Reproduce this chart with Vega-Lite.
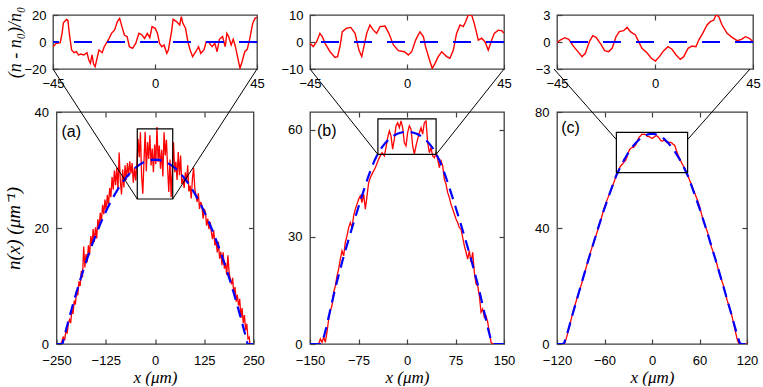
{
"$schema": "https://vega.github.io/schema/vega-lite/v6.json",
"padding": {"left": 3, "top": 5, "right": 0, "bottom": 0},
"background": "white",
"config": {
  "view": {"stroke": "#404040", "strokeWidth": 1.3},
  "axis": {"labelFont": "Liberation Sans", "labelFontSize": 13, "labelColor": "#000", "tickColor": "#404040", "tickWidth": 1.2, "domain": false, "grid": false, "labelOverlap": false, "titleFont": "Liberation Serif", "titleFontStyle": "italic", "titleFontWeight": "normal", "titleFontSize": 17, "titleColor": "#000"}
},
"datasets": {
  "iaR": [{"x":-45,"y":-3.5},{"x":-43.6,"y":-1},{"x":-41.8,"y":-0.5},{"x":-41,"y":6.4},{"x":-40.4,"y":14.3},{"x":-39,"y":16.8},{"x":-38.4,"y":15.8},{"x":-37.8,"y":6.4},{"x":-36.8,"y":-5.9},{"x":-35.7,"y":-7.9},{"x":-34.7,"y":-7.2},{"x":-33.8,"y":-9.6},{"x":-32.7,"y":-8.9},{"x":-31.4,"y":-9.6},{"x":-30,"y":-7.9},{"x":-29.2,"y":-13.3},{"x":-28.5,"y":-15.8},{"x":-27.8,"y":-9.6},{"x":-27.1,"y":-16.3},{"x":-26.4,"y":-18.3},{"x":-25.4,"y":-10.9},{"x":-24.7,"y":-5.9},{"x":-23.3,"y":-7.9},{"x":-22.4,"y":-3.5},{"x":-20.6,"y":1.5},{"x":-19.2,"y":6.4},{"x":-17.8,"y":8.9},{"x":-16.6,"y":15.1},{"x":-15.6,"y":17.5},{"x":-14.6,"y":11.4},{"x":-13.5,"y":5.2},{"x":-12.3,"y":4.0},{"x":-11.3,"y":-3.5},{"x":-9.9,"y":-4.7},{"x":-8.5,"y":-1},{"x":-7.1,"y":6.4},{"x":-5.7,"y":5.2},{"x":-4.6,"y":2.7},{"x":-3.4,"y":6.4},{"x":-2.3,"y":3.2},{"x":-1.3,"y":11.4},{"x":0.1,"y":10.1},{"x":1.1,"y":6.4},{"x":2,"y":-1},{"x":3,"y":-3.5},{"x":4,"y":-2.2},{"x":5.2,"y":-8.4},{"x":5.9,"y":-5.9},{"x":7.3,"y":7.7},{"x":8,"y":16.8},{"x":9.5,"y":15.1},{"x":10.9,"y":12.6},{"x":11.6,"y":18.8},{"x":12.3,"y":13.8},{"x":13.5,"y":10.1},{"x":14.5,"y":0.2},{"x":15.5,"y":-5.9},{"x":16.6,"y":-10.9},{"x":18,"y":-7.2},{"x":19.2,"y":-3.5},{"x":20.2,"y":-8.4},{"x":21.6,"y":-5.9},{"x":22.6,"y":0.2},{"x":23.8,"y":-0.5},{"x":25.2,"y":-3.5},{"x":26.4,"y":-1},{"x":27.4,"y":-7.2},{"x":28.4,"y":2},{"x":29.8,"y":4},{"x":31,"y":-3.5},{"x":31.7,"y":6.4},{"x":32.5,"y":4},{"x":33.6,"y":-2.2},{"x":34.5,"y":2},{"x":35.5,"y":-3.5},{"x":36.7,"y":-13.3},{"x":37.5,"y":-19.5},{"x":38.4,"y":-14.6},{"x":39.6,"y":-7.2},{"x":40.7,"y":-5.4},{"x":41.7,"y":1.5},{"x":43.1,"y":13.8},{"x":44.1,"y":17.5},{"x":45,"y":18.3}],
  "ibR": [{"x":-45,"y":-0.5},{"x":-43.5,"y":-1.7},{"x":-41.9,"y":0.1},{"x":-40.4,"y":3.2},{"x":-39.3,"y":2},{"x":-38,"y":-0.5},{"x":-35.7,"y":-3.6},{"x":-33.4,"y":-5.7},{"x":-32.2,"y":-5.4},{"x":-31.1,"y":-1.7},{"x":-30,"y":3.8},{"x":-28,"y":5.1},{"x":-26.1,"y":5.4},{"x":-24.1,"y":3.2},{"x":-22.3,"y":-3},{"x":-21,"y":-5.4},{"x":-20,"y":-1.7},{"x":-18.7,"y":3.2},{"x":-17.2,"y":6.3},{"x":-15.6,"y":4.4},{"x":-14.1,"y":3.2},{"x":-12.5,"y":5.7},{"x":-10.2,"y":5.9},{"x":-8.4,"y":3.2},{"x":-6.3,"y":-1.1},{"x":-4,"y":-3.2},{"x":-1.2,"y":-3.6},{"x":0.6,"y":-4.8},{"x":2.2,"y":-3.6},{"x":4,"y":0.7},{"x":6,"y":3.8},{"x":7.6,"y":2},{"x":8.6,"y":-1.7},{"x":10.2,"y":-6},{"x":11.7,"y":-9.8},{"x":13,"y":-7.9},{"x":14.5,"y":-5.4},{"x":16.1,"y":-3.6},{"x":18.4,"y":-5.4},{"x":19.9,"y":-6},{"x":21.5,"y":-3},{"x":23,"y":3.2},{"x":24.6,"y":6.3},{"x":26.1,"y":5.7},{"x":27.2,"y":7.5},{"x":28.4,"y":10},{"x":30,"y":10},{"x":31.2,"y":6.9},{"x":33.1,"y":0.7},{"x":34.6,"y":1.4},{"x":36.2,"y":0.1},{"x":37.7,"y":-3},{"x":39,"y":0.1},{"x":40.5,"y":3.2},{"x":42.3,"y":4.4},{"x":43.9,"y":4.2},{"x":45,"y":3.2}],
  "icR": [{"x":-45,"y":-0.07},{"x":-43.5,"y":0.22},{"x":-41.5,"y":0.48},{"x":-39.6,"y":0.3},{"x":-37.3,"y":-0.52},{"x":-35.4,"y":-1.07},{"x":-33.5,"y":-1.63},{"x":-32,"y":-1.26},{"x":-30.1,"y":0.04},{"x":-28.6,"y":0.7},{"x":-27.1,"y":0.52},{"x":-25.1,"y":-0.15},{"x":-23.1,"y":-0.96},{"x":-21.3,"y":-1.07},{"x":-19.7,"y":-0.7},{"x":-17.9,"y":0.59},{"x":-16.4,"y":1.15},{"x":-14.4,"y":1.26},{"x":-12.8,"y":1.63},{"x":-11.3,"y":1.15},{"x":-9,"y":0.78},{"x":-7.5,"y":0.04},{"x":-6,"y":-0.7},{"x":-3.7,"y":-1.19},{"x":-1.7,"y":-1.81},{"x":0.2,"y":-2.11},{"x":2,"y":-1.63},{"x":4,"y":-0.96},{"x":6,"y":-0.52},{"x":7.8,"y":-0.81},{"x":9.7,"y":-1.44},{"x":11.6,"y":-1.93},{"x":13.2,"y":-1.63},{"x":15.2,"y":-0.7},{"x":17,"y":-0.44},{"x":18.8,"y":-0.52},{"x":20.1,"y":0.22},{"x":21.9,"y":0.96},{"x":23.9,"y":1.89},{"x":25.4,"y":2.26},{"x":27,"y":2.44},{"x":28,"y":3},{"x":29.3,"y":2.81},{"x":30.8,"y":1.89},{"x":33.1,"y":0.96},{"x":35.4,"y":0.52},{"x":37.7,"y":0.15},{"x":39.7,"y":0.3},{"x":41.5,"y":0.59},{"x":43.3,"y":0.41},{"x":45,"y":0.04}],
  "maR": [{"x":-250,"y":0},{"x":-240,"y":0},{"x":-237,"y":0.3},{"x":-233,"y":1.2},{"x":-229,"y":0.8},{"x":-226,"y":2.4},{"x":-223,"y":1.8},{"x":-220,"y":3.5},{"x":-217,"y":4.2},{"x":-214,"y":3.6},{"x":-211,"y":5.9},{"x":-208,"y":5.2},{"x":-205,"y":7.5},{"x":-202,"y":6.8},{"x":-199,"y":9.2},{"x":-196,"y":8.4},{"x":-193,"y":10.8},{"x":-190,"y":10.0},{"x":-187,"y":12.6},{"x":-184,"y":11.5},{"x":-181,"y":16.8},{"x":-178,"y":13.2},{"x":-175,"y":15.5},{"x":-172,"y":14.1},{"x":-169,"y":17.0},{"x":-166,"y":15.4},{"x":-163,"y":18.6},{"x":-160,"y":16.9},{"x":-157,"y":19.8},{"x":-154,"y":17.6},{"x":-151,"y":20.1},{"x":-148,"y":18.2},{"x":-145,"y":21.5},{"x":-142,"y":19.9},{"x":-139,"y":22.6},{"x":-136,"y":21.1},{"x":-133,"y":24.0},{"x":-130,"y":22.4},{"x":-127,"y":24.9},{"x":-124,"y":23.0},{"x":-121,"y":25.7},{"x":-118,"y":24.0},{"x":-115,"y":26.9},{"x":-112,"y":25.3},{"x":-109,"y":28.8},{"x":-106,"y":26.6},{"x":-103,"y":29.9},{"x":-100,"y":27.4},{"x":-97,"y":30.4},{"x":-94,"y":26.6},{"x":-91,"y":33.0},{"x":-88,"y":28.2},{"x":-85,"y":25.8},{"x":-82,"y":30.1},{"x":-79,"y":27.0},{"x":-76,"y":30.8},{"x":-73,"y":28.3},{"x":-70,"y":31.2},{"x":-67,"y":28.9},{"x":-64,"y":31.5},{"x":-61,"y":29.4},{"x":-58,"y":31.2},{"x":-55,"y":27.8},{"x":-52,"y":30.4},{"x":-49,"y":28.2},{"x":-46,"y":31.0},{"x":-43,"y":35.4},{"x":-40,"y":32.2},{"x":-37,"y":36.5},{"x":-34,"y":29.0},{"x":-31,"y":25.9},{"x":-28,"y":31.4},{"x":-25,"y":36.6},{"x":-22,"y":29.8},{"x":-19,"y":34.8},{"x":-16,"y":31.9},{"x":-13,"y":36.0},{"x":-10,"y":30.8},{"x":-7,"y":33.7},{"x":-4,"y":29.6},{"x":-1,"y":34.4},{"x":2,"y":31.0},{"x":5,"y":37.4},{"x":8,"y":31.4},{"x":11,"y":34.2},{"x":14,"y":30.2},{"x":17,"y":33.5},{"x":20,"y":28.9},{"x":23,"y":36.5},{"x":26,"y":32.5},{"x":29,"y":35.2},{"x":32,"y":30.4},{"x":35,"y":26.2},{"x":38,"y":31.8},{"x":41,"y":25.3},{"x":44,"y":30.1},{"x":47,"y":34.8},{"x":50,"y":29.6},{"x":53,"y":31.4},{"x":56,"y":28.3},{"x":59,"y":33.1},{"x":62,"y":29.1},{"x":65,"y":32.5},{"x":68,"y":27.6},{"x":71,"y":28.5},{"x":74,"y":26.9},{"x":77,"y":29.6},{"x":80,"y":27.9},{"x":83,"y":30.8},{"x":86,"y":26.3},{"x":89,"y":27.3},{"x":92,"y":25.1},{"x":95,"y":28.5},{"x":98,"y":30.4},{"x":101,"y":26.8},{"x":104,"y":25.6},{"x":107,"y":24.5},{"x":110,"y":26.0},{"x":113,"y":23.3},{"x":116,"y":24.5},{"x":119,"y":23.9},{"x":122,"y":21.6},{"x":125,"y":23.3},{"x":128,"y":22.7},{"x":131,"y":20.4},{"x":134,"y":21.6},{"x":137,"y":19.8},{"x":140,"y":21.0},{"x":143,"y":19.3},{"x":146,"y":18.1},{"x":149,"y":19.6},{"x":152,"y":17.0},{"x":155,"y":17.9},{"x":158,"y":15.8},{"x":161,"y":17.6},{"x":164,"y":14.7},{"x":167,"y":15.9},{"x":170,"y":13.6},{"x":173,"y":15.8},{"x":176,"y":13.0},{"x":179,"y":14.0},{"x":182,"y":11.9},{"x":185,"y":15.3},{"x":188,"y":12.4},{"x":191,"y":11.2},{"x":194,"y":10.3},{"x":197,"y":11.4},{"x":200,"y":8.6},{"x":203,"y":9.8},{"x":206,"y":7.3},{"x":209,"y":8.5},{"x":212,"y":6.6},{"x":215,"y":7.8},{"x":218,"y":4.5},{"x":221,"y":6.2},{"x":224,"y":3.6},{"x":227,"y":5.0},{"x":230,"y":2.4},{"x":233,"y":3.5},{"x":236,"y":0.9},{"x":239,"y":1.2},{"x":241,"y":0},{"x":250,"y":0}],
  "maB": [{"x":-250,"y":0},{"x":-235,"y":0},{"x":-230,"y":1.34},{"x":-220,"y":3.93},{"x":-210,"y":6.41},{"x":-200,"y":8.77},{"x":-190,"y":11.01},{"x":-180,"y":13.14},{"x":-170,"y":15.16},{"x":-160,"y":17.06},{"x":-150,"y":18.84},{"x":-140,"y":20.51},{"x":-130,"y":22.07},{"x":-120,"y":23.51},{"x":-110,"y":24.83},{"x":-100,"y":26.04},{"x":-90,"y":27.14},{"x":-80,"y":28.11},{"x":-70,"y":28.98},{"x":-60,"y":29.73},{"x":-50,"y":30.36},{"x":-40,"y":30.88},{"x":-30,"y":31.28},{"x":-20,"y":31.57},{"x":-10,"y":31.74},{"x":0,"y":31.8},{"x":10,"y":31.74},{"x":20,"y":31.57},{"x":30,"y":31.28},{"x":40,"y":30.88},{"x":50,"y":30.36},{"x":60,"y":29.73},{"x":70,"y":28.98},{"x":80,"y":28.11},{"x":90,"y":27.14},{"x":100,"y":26.04},{"x":110,"y":24.83},{"x":120,"y":23.51},{"x":130,"y":22.07},{"x":140,"y":20.51},{"x":150,"y":18.84},{"x":160,"y":17.06},{"x":170,"y":15.16},{"x":180,"y":13.14},{"x":190,"y":11.01},{"x":200,"y":8.77},{"x":210,"y":6.41},{"x":220,"y":3.93},{"x":230,"y":1.34},{"x":235,"y":0},{"x":250,"y":0}],
  "mbR": [{"x":-150,"y":0},{"x":-136.6,"y":0},{"x":-134,"y":1.4},{"x":-131.4,"y":0.5},{"x":-128.9,"y":1.9},{"x":-126.3,"y":0.5},{"x":-123.7,"y":3.3},{"x":-121.1,"y":7.0},{"x":-118.6,"y":9.3},{"x":-116,"y":10.7},{"x":-113.4,"y":14.5},{"x":-110.8,"y":16.3},{"x":-108.2,"y":19.1},{"x":-105.7,"y":21.0},{"x":-103.1,"y":23.8},{"x":-100.5,"y":26.1},{"x":-97.9,"y":24.7},{"x":-95.4,"y":28.5},{"x":-92.8,"y":30.3},{"x":-90.2,"y":32.6},{"x":-87.6,"y":34.0},{"x":-85,"y":32.6},{"x":-82.5,"y":35.9},{"x":-79.9,"y":37.8},{"x":-77.3,"y":39.2},{"x":-74.7,"y":40.6},{"x":-72.2,"y":41.5},{"x":-69.6,"y":39.6},{"x":-67,"y":42.0},{"x":-64.4,"y":37.8},{"x":-61.8,"y":41.5},{"x":-59.3,"y":45.2},{"x":-56.7,"y":46.6},{"x":-54.1,"y":47.6},{"x":-49,"y":49.4},{"x":-43.8,"y":51.8},{"x":-38.7,"y":53.6},{"x":-35,"y":52.7},{"x":-32.5,"y":55.0},{"x":-29.9,"y":57.8},{"x":-27.3,"y":59.7},{"x":-24.7,"y":58.3},{"x":-22.2,"y":54.6},{"x":-19.6,"y":57.4},{"x":-17,"y":61.1},{"x":-14.4,"y":62.0},{"x":-11.8,"y":60.6},{"x":-9.3,"y":62.5},{"x":-6.7,"y":60.6},{"x":-4.1,"y":56.4},{"x":-1.5,"y":55.5},{"x":1,"y":59.2},{"x":3.6,"y":61.1},{"x":6.2,"y":60.2},{"x":8.8,"y":55.5},{"x":11.4,"y":53.2},{"x":13.9,"y":55.5},{"x":16.5,"y":57.4},{"x":19.1,"y":59.2},{"x":21.7,"y":60.6},{"x":24.2,"y":58.8},{"x":26.8,"y":62.0},{"x":29.4,"y":62.5},{"x":32,"y":56.4},{"x":34.6,"y":53.6},{"x":37.1,"y":55.0},{"x":39.7,"y":52.7},{"x":42.3,"y":52.2},{"x":44.9,"y":53.6},{"x":47.4,"y":51.8},{"x":50,"y":49.4},{"x":52.6,"y":51.3},{"x":55.2,"y":49.9},{"x":57.7,"y":46.2},{"x":60.3,"y":44.8},{"x":62.9,"y":42.4},{"x":65.5,"y":41.0},{"x":68,"y":39.2},{"x":70.6,"y":37.8},{"x":73.2,"y":36.4},{"x":75.8,"y":35.0},{"x":78.4,"y":34.0},{"x":80.9,"y":32.6},{"x":83.5,"y":32.2},{"x":86.1,"y":29.9},{"x":88.7,"y":27.5},{"x":91.3,"y":25.7},{"x":93.8,"y":23.8},{"x":96.4,"y":26.1},{"x":99,"y":22.9},{"x":101.6,"y":25.7},{"x":104.1,"y":20.1},{"x":106.7,"y":16.8},{"x":109.3,"y":16.3},{"x":111.9,"y":13.5},{"x":114.5,"y":8.9},{"x":117,"y":9.8},{"x":119.6,"y":7.5},{"x":122.2,"y":7.9},{"x":124.8,"y":6.1},{"x":127.3,"y":3.3},{"x":129.9,"y":0.5},{"x":132.5,"y":0},{"x":150,"y":0}],
  "mbB": [{"x":-150,"y":0},{"x":-133,"y":0},{"x":-130,"y":1.0},{"x":-125,"y":4.5},{"x":-120,"y":8.5},{"x":-110,"y":16.3},{"x":-100,"y":23.2},{"x":-90,"y":29.5},{"x":-80,"y":35.5},{"x":-70,"y":41.3},{"x":-65,"y":44.1},{"x":-60,"y":46.8},{"x":-55,"y":49.3},{"x":-50,"y":51.5},{"x":-45,"y":53.3},{"x":-40,"y":54.8},{"x":-35,"y":56.0},{"x":-30,"y":57.0},{"x":-25,"y":57.8},{"x":-20,"y":58.4},{"x":-15,"y":58.9},{"x":-10,"y":59.2},{"x":-5,"y":59.4},{"x":0,"y":59.5},{"x":5,"y":59.4},{"x":10,"y":59.2},{"x":15,"y":58.9},{"x":20,"y":58.4},{"x":25,"y":57.8},{"x":30,"y":57.0},{"x":35,"y":56.0},{"x":40,"y":54.8},{"x":45,"y":53.3},{"x":50,"y":51.5},{"x":55,"y":49.3},{"x":60,"y":46.8},{"x":65,"y":44.1},{"x":70,"y":41.3},{"x":80,"y":35.5},{"x":90,"y":29.5},{"x":100,"y":23.2},{"x":110,"y":16.3},{"x":120,"y":8.5},{"x":125,"y":4.5},{"x":130,"y":1.0},{"x":133,"y":0},{"x":150,"y":0}],
  "mcR": [{"x":-120,"y":0},{"x":-111,"y":0},{"x":-110,"y":0.5},{"x":-108,"y":2.2},{"x":-105,"y":5.2},{"x":-100,"y":10.9},{"x":-95,"y":15.5},{"x":-90,"y":19.8},{"x":-85,"y":24.5},{"x":-80,"y":29.6},{"x":-75,"y":34.0},{"x":-70,"y":38.0},{"x":-65,"y":42.4},{"x":-60,"y":47.3},{"x":-55,"y":50.9},{"x":-50,"y":54.3},{"x":-45,"y":58.16},{"x":-42,"y":60.17},{"x":-39.6,"y":61.4},{"x":-37.3,"y":62.08},{"x":-35.4,"y":62.72},{"x":-33.5,"y":63.25},{"x":-32,"y":64.16},{"x":-30.1,"y":65.89},{"x":-28.6,"y":66.93},{"x":-27.1,"y":67.41},{"x":-25.1,"y":67.76},{"x":-23.1,"y":67.86},{"x":-21.3,"y":68.42},{"x":-19.7,"y":69.09},{"x":-17.9,"y":70.46},{"x":-16.4,"y":71.25},{"x":-14.4,"y":71.79},{"x":-12.8,"y":72.36},{"x":-11.3,"y":72.3},{"x":-9,"y":72.36},{"x":-7.5,"y":72.03},{"x":-6,"y":71.56},{"x":-3.7,"y":71.49},{"x":-1.7,"y":71.12},{"x":0.2,"y":70.97},{"x":2,"y":71.24},{"x":4,"y":71.65},{"x":6,"y":71.82},{"x":7.8,"y":71.42},{"x":9.7,"y":70.71},{"x":11.6,"y":70.02},{"x":13.2,"y":69.94},{"x":15.2,"y":70.25},{"x":17,"y":69.97},{"x":18.8,"y":69.44},{"x":20.1,"y":69.62},{"x":21.9,"y":69.56},{"x":23.9,"y":69.54},{"x":25.4,"y":69.27},{"x":27,"y":68.74},{"x":28,"y":68.7},{"x":29.3,"y":68.06},{"x":30.8,"y":66.74},{"x":33.1,"y":65.12},{"x":35.4,"y":63.73},{"x":37.7,"y":62.29},{"x":39.7,"y":61.38},{"x":41.5,"y":60.55},{"x":43.3,"y":59.44},{"x":45,"y":58.22},{"x":50,"y":54.8},{"x":55,"y":51.3},{"x":57.5,"y":49.6},{"x":60,"y":47.5},{"x":65,"y":42.3},{"x":70,"y":38.6},{"x":75,"y":33.5},{"x":80,"y":29.5},{"x":85,"y":24.5},{"x":90,"y":20.3},{"x":95,"y":15.0},{"x":100,"y":10.8},{"x":103,"y":7.2},{"x":106,"y":3.5},{"x":108,"y":1.2},{"x":110,"y":0},{"x":120,"y":0}],
  "mcB": [{"x":-120,"y":0},{"x":-113,"y":0},{"x":-111,"y":0.3},{"x":-108,"y":2.7},{"x":-105,"y":5.6},{"x":-100,"y":10.5},{"x":-95,"y":15.3},{"x":-90,"y":20.0},{"x":-85,"y":24.7},{"x":-80,"y":29.3},{"x":-75,"y":33.8},{"x":-70,"y":38.3},{"x":-65,"y":42.6},{"x":-60,"y":46.8},{"x":-55,"y":50.7},{"x":-50,"y":54.5},{"x":-45,"y":58.2},{"x":-40,"y":61.0},{"x":-35,"y":63.6},{"x":-30,"y":65.9},{"x":-25,"y":67.9},{"x":-20,"y":69.5},{"x":-15,"y":70.8},{"x":-10,"y":71.7},{"x":-5,"y":72.3},{"x":0,"y":72.5},{"x":5,"y":72.3},{"x":10,"y":71.7},{"x":15,"y":70.8},{"x":20,"y":69.5},{"x":25,"y":67.9},{"x":30,"y":65.9},{"x":35,"y":63.6},{"x":40,"y":61.0},{"x":45,"y":58.2},{"x":50,"y":54.5},{"x":55,"y":50.7},{"x":60,"y":46.8},{"x":65,"y":42.6},{"x":70,"y":38.3},{"x":75,"y":33.8},{"x":80,"y":29.3},{"x":85,"y":24.7},{"x":90,"y":20.0},{"x":95,"y":15.3},{"x":100,"y":10.5},{"x":105,"y":5.6},{"x":108,"y":2.7},{"x":111,"y":0.3},{"x":113,"y":0},{"x":120,"y":0}],
  "boxA": [{"x":-45,"x2":45,"y":25.0,"y2":37.1}],
  "boxB": [{"x":-45,"x2":45,"y":53.1,"y2":63.1}],
  "boxC": [{"x":-45,"x2":45,"y":59.1,"y2":73.0}],
  "conA": [{"x":-258.88,"y":47.41,"x2":-45,"y2":25.0},{"x":258.88,"y":47.41,"x2":45,"y2":25.0}],
  "conB": [{"x":-150,"y":77.05,"x2":-45,"y2":53.1},{"x":150,"y":77.05,"x2":45,"y2":53.1}],
  "conC": [{"x":-123.79,"y":94.83,"x2":-45,"y2":70.5},{"x":123.79,"y":94.83,"x2":45,"y2":70.5}],
  "labA": [{"x":-237.3,"y":36.55,"t":"(a)"}],
  "labB": [{"x":-139.2,"y":59.7,"t":"(b)"}],
  "labC": [{"x":-114.6,"y":74.65,"t":"(c)"}]
},
"concat": [
   {"width": 204, "height": 54,
    "layer": [
     {"data": {"name": "iaR"}, "mark": {"type": "line", "color": "#ff0000", "strokeWidth": 1.4, "clip": true},
      "encoding": {
       "x": {"field": "x", "type": "quantitative", "scale": {"domain": [-45, 45], "nice": false, "zero": false}, "axis": {"orient": "bottom", "values": [-45, 0, 45], "title": null, "tickSize": -5, "labelPadding": 13, "labelFlush": false}},
       "y": {"field": "y", "type": "quantitative", "scale": {"domain": [-20, 20], "nice": false, "zero": false}, "axis": {"orient": "left", "values": [-20, 0, 20], "title": "(n - n₀)/n₀", "tickSize": -5, "labelPadding": 12, "titlePadding": -1, "titleFontSize": 18}}}},
     {"data": {"values": [{}]}, "mark": {"type": "rule", "color": "#0000ff", "strokeWidth": 2, "strokeDash": [18, 15]},
      "encoding": {"y": {"datum": 0, "type": "quantitative", "scale": {"domain": [-20, 20], "nice": false, "zero": false}, "axis": null}}},
     {"data": {"name": "iaR"}, "mark": {"type": "point", "opacity": 0},
      "encoding": {
       "x": {"field": "x", "type": "quantitative", "scale": {"domain": [-45, 45], "nice": false, "zero": false}, "axis": {"orient": "top", "values": [0], "labels": false, "tickSize": -5, "title": null}},
       "y": {"field": "y", "type": "quantitative", "scale": {"domain": [-20, 20], "nice": false, "zero": false}, "axis": {"orient": "right", "values": [0], "labels": false, "tickSize": -5, "title": null}}}}
    ],
    "resolve": {"axis": {"x": "independent", "y": "independent"}}},
   {"width": 194, "height": 54,
    "layer": [
     {"data": {"name": "ibR"}, "mark": {"type": "line", "color": "#ff0000", "strokeWidth": 1.4, "clip": true},
      "encoding": {
       "x": {"field": "x", "type": "quantitative", "scale": {"domain": [-45, 45], "nice": false, "zero": false}, "axis": {"orient": "bottom", "values": [-45, 0, 45], "title": null, "tickSize": -5, "labelPadding": 13, "labelFlush": false}},
       "y": {"field": "y", "type": "quantitative", "scale": {"domain": [-10, 10], "nice": false, "zero": false}, "axis": {"orient": "left", "values": [-10, 0, 10], "title": null, "tickSize": -5, "labelPadding": 12}}}},
     {"data": {"values": [{}]}, "mark": {"type": "rule", "color": "#0000ff", "strokeWidth": 2, "strokeDash": [18, 15]},
      "encoding": {"y": {"datum": 0, "type": "quantitative", "scale": {"domain": [-10, 10], "nice": false, "zero": false}, "axis": null}}},
     {"data": {"name": "ibR"}, "mark": {"type": "point", "opacity": 0},
      "encoding": {
       "x": {"field": "x", "type": "quantitative", "scale": {"domain": [-45, 45], "nice": false, "zero": false}, "axis": {"orient": "top", "values": [0], "labels": false, "tickSize": -5, "title": null}},
       "y": {"field": "y", "type": "quantitative", "scale": {"domain": [-10, 10], "nice": false, "zero": false}, "axis": {"orient": "right", "values": [0], "labels": false, "tickSize": -5, "title": null}}}}
    ],
    "resolve": {"axis": {"x": "independent", "y": "independent"}}},
   {"width": 196, "height": 54,
    "layer": [
     {"data": {"name": "icR"}, "mark": {"type": "line", "color": "#ff0000", "strokeWidth": 1.4, "clip": true},
      "encoding": {
       "x": {"field": "x", "type": "quantitative", "scale": {"domain": [-45, 45], "nice": false, "zero": false}, "axis": {"orient": "bottom", "values": [-45, 0, 45], "title": null, "tickSize": -5, "labelPadding": 13, "labelFlush": false}},
       "y": {"field": "y", "type": "quantitative", "scale": {"domain": [-3, 3], "nice": false, "zero": false}, "axis": {"orient": "left", "values": [-3, 0, 3], "title": null, "tickSize": -5, "labelPadding": 12}}}},
     {"data": {"values": [{}]}, "mark": {"type": "rule", "color": "#0000ff", "strokeWidth": 2, "strokeDash": [18, 15]},
      "encoding": {"y": {"datum": 0, "type": "quantitative", "scale": {"domain": [-3, 3], "nice": false, "zero": false}, "axis": null}}},
     {"data": {"name": "icR"}, "mark": {"type": "point", "opacity": 0},
      "encoding": {
       "x": {"field": "x", "type": "quantitative", "scale": {"domain": [-45, 45], "nice": false, "zero": false}, "axis": {"orient": "top", "values": [0], "labels": false, "tickSize": -5, "title": null}},
       "y": {"field": "y", "type": "quantitative", "scale": {"domain": [-3, 3], "nice": false, "zero": false}, "axis": {"orient": "right", "values": [0], "labels": false, "tickSize": -5, "title": null}}}}
    ],
    "resolve": {"axis": {"x": "independent", "y": "independent"}}},
   {"width": 197, "height": 232,
    "layer": [
     {"data": {"name": "maR"}, "mark": {"type": "line", "color": "#ff0000", "strokeWidth": 1.3, "clip": true},
      "encoding": {
       "x": {"field": "x", "type": "quantitative", "scale": {"domain": [-250, 250], "nice": false, "zero": false}, "axis": {"orient": "bottom", "values": [-250, -125, 0, 125, 250], "title": "x (μm)", "tickSize": -5, "labelPadding": 15, "labelFlush": false, "titlePadding": 2}},
       "y": {"field": "y", "type": "quantitative", "scale": {"domain": [0, 40], "nice": false, "zero": false}, "axis": {"orient": "left", "values": [0, 20, 40], "title": "n(x) (μm⁻¹)", "tickSize": -5, "labelPadding": 13, "titlePadding": 11, "titleFontSize": 19}}}},
     {"data": {"name": "maB"}, "mark": {"type": "line", "color": "#0000ff", "strokeWidth": 2.2, "strokeDash": [11, 7], "clip": true},
      "encoding": {
       "x": {"field": "x", "type": "quantitative", "scale": {"domain": [-250, 250], "nice": false, "zero": false}, "axis": {"orient": "top", "values": [-125, 0, 125], "labels": false, "tickSize": -5, "title": null}},
       "y": {"field": "y", "type": "quantitative", "scale": {"domain": [0, 40], "nice": false, "zero": false}, "axis": {"orient": "right", "values": [20], "labels": false, "tickSize": -5, "title": null}}}},
     {"data": {"name": "boxA"}, "mark": {"type": "rect", "filled": false, "stroke": "#000", "strokeWidth": 1.2},
      "encoding": {
       "x": {"field": "x", "type": "quantitative", "scale": {"domain": [-250, 250], "nice": false, "zero": false}, "axis": null}, "x2": {"field": "x2"},
       "y": {"field": "y", "type": "quantitative", "scale": {"domain": [0, 40], "nice": false, "zero": false}, "axis": null}, "y2": {"field": "y2"}}},
     {"data": {"name": "conA"}, "mark": {"type": "rule", "color": "#000", "strokeWidth": 1, "clip": false},
      "encoding": {
       "x": {"field": "x", "type": "quantitative", "scale": {"domain": [-250, 250], "nice": false, "zero": false}, "axis": null}, "x2": {"field": "x2"},
       "y": {"field": "y", "type": "quantitative", "scale": {"domain": [0, 40], "nice": false, "zero": false}, "axis": null}, "y2": {"field": "y2"}}},
     {"data": {"name": "labA"}, "mark": {"type": "text", "font": "Liberation Sans", "fontSize": 16, "align": "left", "baseline": "middle", "color": "#000"},
      "encoding": {
       "x": {"field": "x", "type": "quantitative", "scale": {"domain": [-250, 250], "nice": false, "zero": false}, "axis": null},
       "y": {"field": "y", "type": "quantitative", "scale": {"domain": [0, 40], "nice": false, "zero": false}, "axis": null},
       "text": {"field": "t"}}}
    ],
    "resolve": {"axis": {"x": "independent", "y": "independent"}}},
   {"width": 194, "height": 232,
    "layer": [
     {"data": {"name": "mbR"}, "mark": {"type": "line", "color": "#ff0000", "strokeWidth": 1.3, "clip": true},
      "encoding": {
       "x": {"field": "x", "type": "quantitative", "scale": {"domain": [-150, 150], "nice": false, "zero": false}, "axis": {"orient": "bottom", "values": [-150, -75, 0, 75, 150], "title": "x (μm)", "tickSize": -5, "labelPadding": 15, "labelFlush": false, "titlePadding": 2}},
       "y": {"field": "y", "type": "quantitative", "scale": {"domain": [0, 65], "nice": false, "zero": false}, "axis": {"orient": "left", "values": [0, 30, 60], "title": null, "tickSize": -5, "labelPadding": 13}}}},
     {"data": {"name": "mbB"}, "mark": {"type": "line", "color": "#0000ff", "strokeWidth": 2.2, "strokeDash": [11, 7], "clip": true},
      "encoding": {
       "x": {"field": "x", "type": "quantitative", "scale": {"domain": [-150, 150], "nice": false, "zero": false}, "axis": {"orient": "top", "values": [-75, 0, 75], "labels": false, "tickSize": -5, "title": null}},
       "y": {"field": "y", "type": "quantitative", "scale": {"domain": [0, 65], "nice": false, "zero": false}, "axis": {"orient": "right", "values": [30, 60], "labels": false, "tickSize": -5, "title": null}}}},
     {"data": {"name": "boxB"}, "mark": {"type": "rect", "filled": false, "stroke": "#000", "strokeWidth": 1.2},
      "encoding": {
       "x": {"field": "x", "type": "quantitative", "scale": {"domain": [-150, 150], "nice": false, "zero": false}, "axis": null}, "x2": {"field": "x2"},
       "y": {"field": "y", "type": "quantitative", "scale": {"domain": [0, 65], "nice": false, "zero": false}, "axis": null}, "y2": {"field": "y2"}}},
     {"data": {"name": "conB"}, "mark": {"type": "rule", "color": "#000", "strokeWidth": 1, "clip": false},
      "encoding": {
       "x": {"field": "x", "type": "quantitative", "scale": {"domain": [-150, 150], "nice": false, "zero": false}, "axis": null}, "x2": {"field": "x2"},
       "y": {"field": "y", "type": "quantitative", "scale": {"domain": [0, 65], "nice": false, "zero": false}, "axis": null}, "y2": {"field": "y2"}}},
     {"data": {"name": "labB"}, "mark": {"type": "text", "font": "Liberation Sans", "fontSize": 16, "align": "left", "baseline": "middle", "color": "#000"},
      "encoding": {
       "x": {"field": "x", "type": "quantitative", "scale": {"domain": [-150, 150], "nice": false, "zero": false}, "axis": null},
       "y": {"field": "y", "type": "quantitative", "scale": {"domain": [0, 65], "nice": false, "zero": false}, "axis": null},
       "text": {"field": "t"}}}
    ],
    "resolve": {"axis": {"x": "independent", "y": "independent"}}},
   {"width": 190, "height": 232,
    "layer": [
     {"data": {"name": "mcR"}, "mark": {"type": "line", "color": "#ff0000", "strokeWidth": 1.3, "clip": true},
      "encoding": {
       "x": {"field": "x", "type": "quantitative", "scale": {"domain": [-120, 120], "nice": false, "zero": false}, "axis": {"orient": "bottom", "values": [-120, -60, 0, 60, 120], "title": "x (μm)", "tickSize": -5, "labelPadding": 15, "labelFlush": false, "titlePadding": 2}},
       "y": {"field": "y", "type": "quantitative", "scale": {"domain": [0, 80], "nice": false, "zero": false}, "axis": {"orient": "left", "values": [0, 40, 80], "title": null, "tickSize": -5, "labelPadding": 13}}}},
     {"data": {"name": "mcB"}, "mark": {"type": "line", "color": "#0000ff", "strokeWidth": 2.2, "strokeDash": [11, 7], "clip": true},
      "encoding": {
       "x": {"field": "x", "type": "quantitative", "scale": {"domain": [-120, 120], "nice": false, "zero": false}, "axis": {"orient": "top", "values": [-60, 0, 60], "labels": false, "tickSize": -5, "title": null}},
       "y": {"field": "y", "type": "quantitative", "scale": {"domain": [0, 80], "nice": false, "zero": false}, "axis": {"orient": "right", "values": [40], "labels": false, "tickSize": -5, "title": null}}}},
     {"data": {"name": "boxC"}, "mark": {"type": "rect", "filled": false, "stroke": "#000", "strokeWidth": 1.2},
      "encoding": {
       "x": {"field": "x", "type": "quantitative", "scale": {"domain": [-120, 120], "nice": false, "zero": false}, "axis": null}, "x2": {"field": "x2"},
       "y": {"field": "y", "type": "quantitative", "scale": {"domain": [0, 80], "nice": false, "zero": false}, "axis": null}, "y2": {"field": "y2"}}},
     {"data": {"name": "conC"}, "mark": {"type": "rule", "color": "#000", "strokeWidth": 1, "clip": false},
      "encoding": {
       "x": {"field": "x", "type": "quantitative", "scale": {"domain": [-120, 120], "nice": false, "zero": false}, "axis": null}, "x2": {"field": "x2"},
       "y": {"field": "y", "type": "quantitative", "scale": {"domain": [0, 80], "nice": false, "zero": false}, "axis": null}, "y2": {"field": "y2"}}},
     {"data": {"name": "labC"}, "mark": {"type": "text", "font": "Liberation Sans", "fontSize": 16, "align": "left", "baseline": "middle", "color": "#000"},
      "encoding": {
       "x": {"field": "x", "type": "quantitative", "scale": {"domain": [-120, 120], "nice": false, "zero": false}, "axis": null},
       "y": {"field": "y", "type": "quantitative", "scale": {"domain": [0, 80], "nice": false, "zero": false}, "axis": null},
       "text": {"field": "t"}}}
    ],
    "resolve": {"axis": {"x": "independent", "y": "independent"}}}
],
"columns": 3,
"spacing": {"row": 43, "column": 53},
"center": true,
"bounds": "flush"
}
